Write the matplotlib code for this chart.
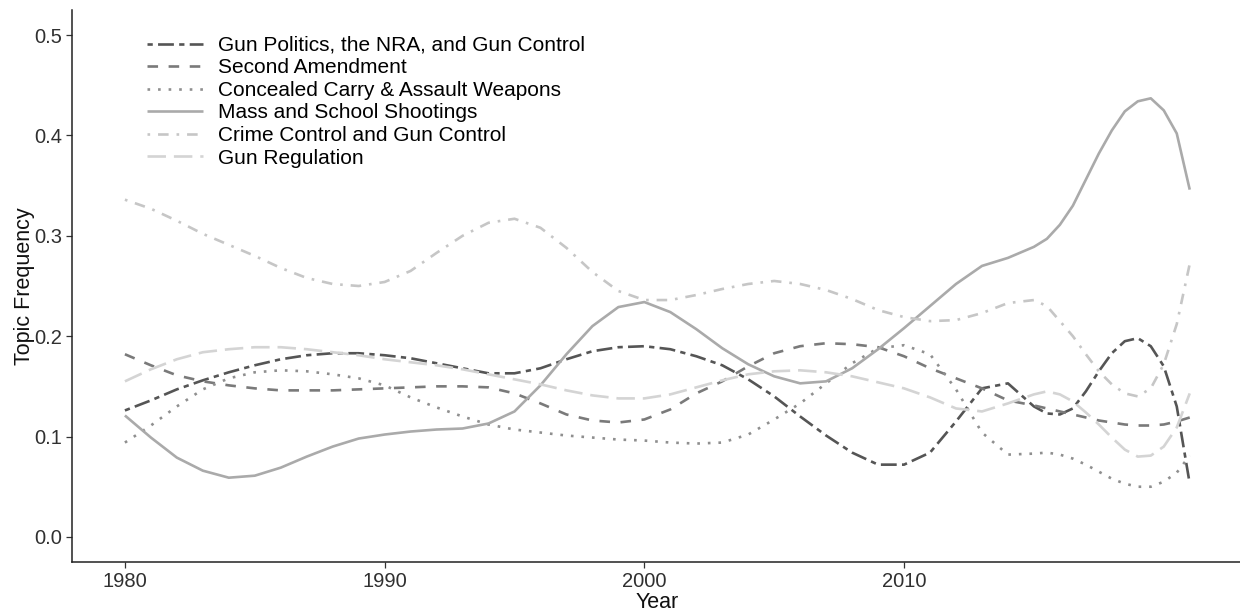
import numpy as np
import matplotlib
matplotlib.use("Agg")
import matplotlib.pyplot as plt

years = list(range(1980, 2015)) + [2015, 2015.5, 2016, 2016.5, 2017, 2017.5, 2018,
                                   2018.5, 2019, 2019.5, 2020, 2020.5, 2021]

gun_politics = [0.126, 0.136, 0.147, 0.156, 0.164, 0.171, 0.177, 0.181, 0.183, 0.183,
                0.181, 0.178, 0.173, 0.168, 0.163, 0.163, 0.168, 0.177, 0.185, 0.189,
                0.190, 0.187, 0.180, 0.171, 0.157, 0.140, 0.120, 0.101, 0.084, 0.072,
                0.072, 0.084, 0.115, 0.148, 0.153,
                0.130, 0.123, 0.122, 0.128, 0.145, 0.165, 0.183, 0.195, 0.198, 0.190,
                0.170, 0.130, 0.053]
second_amendment = [0.182, 0.171, 0.161, 0.155, 0.151, 0.148, 0.146, 0.146, 0.146, 0.147,
                    0.148, 0.149, 0.150, 0.150, 0.149, 0.143, 0.133, 0.122, 0.116, 0.114,
                    0.117, 0.127, 0.143, 0.155, 0.170, 0.183, 0.190, 0.193, 0.192, 0.189,
                    0.180, 0.168, 0.158, 0.148, 0.136,
                    0.131, 0.128, 0.125, 0.122, 0.119, 0.116, 0.114, 0.112, 0.111, 0.111,
                    0.112, 0.115, 0.119]
concealed_carry = [0.094, 0.111, 0.130, 0.147, 0.158, 0.164, 0.166, 0.165, 0.162, 0.158,
                   0.151, 0.139, 0.129, 0.120, 0.112, 0.107, 0.104, 0.101, 0.099, 0.097,
                   0.096, 0.094, 0.093, 0.094, 0.102, 0.117, 0.133, 0.153, 0.173, 0.188,
                   0.191, 0.182, 0.147, 0.104, 0.082,
                   0.083, 0.084, 0.082, 0.078, 0.072, 0.065, 0.058, 0.053, 0.050, 0.050,
                   0.055, 0.064, 0.081]
mass_shootings = [0.121, 0.099, 0.079, 0.066, 0.059, 0.061, 0.069, 0.080, 0.090, 0.098,
                  0.102, 0.105, 0.107, 0.108, 0.113, 0.125, 0.151, 0.182, 0.210, 0.229,
                  0.234, 0.224, 0.207, 0.188, 0.172, 0.160, 0.153, 0.155, 0.168, 0.187,
                  0.208, 0.230, 0.252, 0.270, 0.278,
                  0.289, 0.297, 0.311, 0.330, 0.356, 0.382, 0.405, 0.424, 0.434, 0.437,
                  0.425, 0.402, 0.346]
crime_control = [0.336, 0.327, 0.315, 0.302, 0.291, 0.280, 0.268, 0.258, 0.252, 0.250,
                 0.254, 0.265, 0.283, 0.300, 0.313, 0.317, 0.308, 0.288, 0.264, 0.245,
                 0.236, 0.236, 0.241, 0.247, 0.252, 0.255, 0.252, 0.246, 0.237, 0.226,
                 0.219, 0.215, 0.216, 0.223, 0.233,
                 0.236, 0.230, 0.215, 0.200, 0.182, 0.165, 0.152, 0.143, 0.140, 0.148,
                 0.172, 0.212, 0.272]
gun_regulation = [0.155, 0.167, 0.177, 0.184, 0.187, 0.189, 0.189, 0.187, 0.184, 0.181,
                  0.177, 0.174, 0.171, 0.167, 0.162, 0.157, 0.152, 0.146, 0.141, 0.138,
                  0.138, 0.142, 0.149, 0.156, 0.162, 0.165, 0.166, 0.164, 0.160, 0.154,
                  0.148, 0.139, 0.128, 0.125, 0.133,
                  0.142, 0.145, 0.142, 0.135, 0.124, 0.112, 0.099, 0.087, 0.080, 0.081,
                  0.090, 0.109, 0.143]

labels = ["Gun Politics, the NRA, and Gun Control", "Second Amendment",
          "Concealed Carry & Assault Weapons", "Mass and School Shootings",
          "Crime Control and Gun Control", "Gun Regulation"]
series = [gun_politics, second_amendment, concealed_carry, mass_shootings,
          crime_control, gun_regulation]
colors = ["#555555", "#7a7a7a", "#8f8f8f", "#aaaaaa", "#c6c6c6", "#d4d4d4"]
dashes = [(2, 2, 6, 2), (4, 4), (1, 3), None, (1, 3, 4, 3), (7, 3)]

plt.rcParams['font.family'] = ['Liberation Sans', 'DejaVu Sans']

fig = plt.figure(figsize=(12.4, 6.13), dpi=100)
ax = fig.add_axes([0.0578, 0.0832, 0.9446, 0.9005])

for vals, lab, col, d in zip(series, labels, colors, dashes):
    line, = ax.plot(years, vals, color=col, lw=1.9, label=lab,
                    solid_capstyle='butt', dash_capstyle='butt',
                    solid_joinstyle='round', dash_joinstyle='round')
    if d is not None:
        line.set_dashes(d)

ax.set_xlim(1977.95, 2023.05)
ax.set_ylim(-0.025, 0.525)
ax.set_xticks([1980, 1990, 2000, 2010])
ax.set_yticks([0.0, 0.1, 0.2, 0.3, 0.4, 0.5])
ax.set_yticklabels(["0.0", "0.1", "0.2", "0.3", "0.4", "0.5"])

for s in ["top", "right"]:
    ax.spines[s].set_visible(False)
for s in ["left", "bottom"]:
    ax.spines[s].set_color("#222222")
    ax.spines[s].set_linewidth(1.1)

ax.tick_params(axis='both', length=4, width=0.9, color="#333333",
               labelsize=14.5, labelcolor="#303030", pad=3)
ax.set_xlabel("Year", fontsize=15.5, color="#111111", labelpad=1)
ax.set_ylabel("Topic Frequency", fontsize=15.5, color="#111111", labelpad=-1)

leg = ax.legend(loc="upper left", bbox_to_anchor=(0.055, 0.972), frameon=False,
                fontsize=15, handlelength=2.7, handletextpad=0.72,
                labelspacing=0.17, borderpad=0.0)

fig.savefig("out.png", dpi=100)
